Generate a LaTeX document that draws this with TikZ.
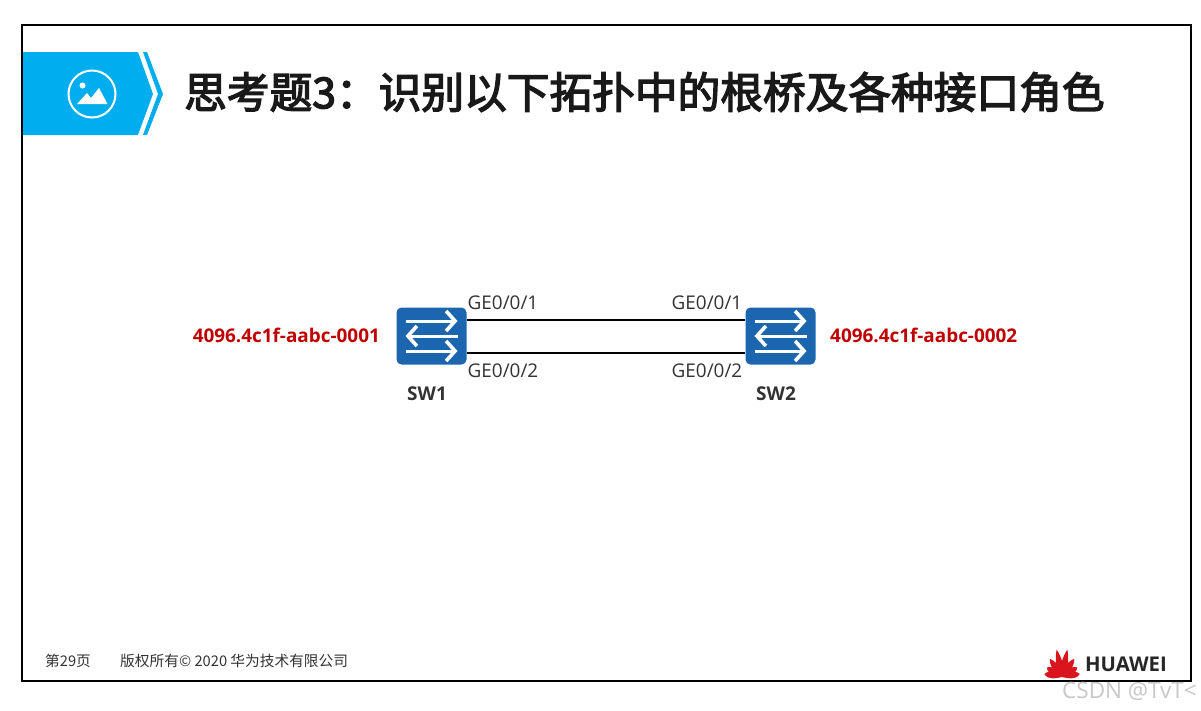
\documentclass[tikz,border=0pt]{standalone}
\usepackage{fontspec}
\setmainfont{Open Sans}
\newfontfamily\cjk{Noto Sans CJK SC}
\newfontfamily\cjktitle[FakeBold=3.2]{Noto Sans CJK SC}
\definecolor{hwblue}{HTML}{00AEEF}
\definecolor{swblue}{HTML}{1B66AE}
\definecolor{hwred}{HTML}{C00000}
\definecolor{logored}{HTML}{D9161E}
\definecolor{txtgray}{HTML}{333333}
\usetikzlibrary{arrows.meta}
\tikzset{
    switchbox/.style={draw=none, fill=swblue, rounded corners=5pt, minimum width=70pt, minimum height=57pt, inner sep=0pt},
    portlabel/.style={text=txtgray, font=\fontsize{18.9}{20}\selectfont, inner sep=0pt},
    namelabel/.style={text=txtgray, font=\fontsize{19}{20}\selectfont\bfseries, inner sep=0pt},
    bridgelabel/.style={text=hwred, font=\fontsize{18.9}{20}\selectfont\bfseries, inner sep=0pt},
    footlabel/.style={text=txtgray, font=\fontsize{14.7}{16}\selectfont, inner sep=0pt},
    swarrow/.style={white, line width=3pt, -{Straight Barb[length=9pt,width=20pt,line width=3.6pt]}},
    link/.style={black, line width=2pt}
}
\begin{document}
\begin{tikzpicture}[x=1pt, y=-1pt]
\useasboundingbox (0,0) rectangle (1201,710);

% Frame and title banner
\fill[white] (0,0) rectangle (1201,710);
\draw[black, line width=2.2pt] (22,25) rectangle (1191,681);
\fill[hwblue] (23,52) -- (138,52) -- (153,94) -- (138,135) -- (23,135) -- cycle;
\fill[hwblue] (143,52) -- (147,52) -- (163,94) -- (147,135) -- (143,135) -- (158,94) -- cycle;
\draw[white, line width=2pt] (92,94) circle (23.5);
\fill[white] (82.5,85.5) circle (3);
\fill[white] (77,104) -- (87,93) -- (91,98) -- (99,88) -- (107.5,104) -- cycle;

% Define the nodes
\node[anchor=west, inner sep=0pt, text=black!90] (title) at (184,92) {\fontsize{42.7}{46}\selectfont\cjktitle 思考题3：识别以下拓扑中的根桥及各种接口角色};
\node[switchbox] (SW1) at (431.5,336) {};
\node[switchbox] (SW2) at (780.5,336) {};
\node[namelabel] (name1) at (427,394) {SW1};
\node[namelabel] (name2) at (776,394) {SW2};
\node[bridgelabel, anchor=east] (id1) at (380,335) {4096.4c1f-aabc-0001};
\node[bridgelabel, anchor=west] (id2) at (830,335) {4096.4c1f-aabc-0002};
\node[portlabel] (p11) at (503,303) {GE0/0/1};
\node[portlabel] (p12) at (503,371) {GE0/0/2};
\node[portlabel] (p21) at (707,303) {GE0/0/1};
\node[portlabel] (p22) at (707,371) {GE0/0/2};
\node[footlabel, anchor=west] (page) at (45,660.5) {\cjk 第29页};
\node[footlabel, anchor=west] (copy) at (120,660.5) {\cjk 版权所有© 2020 华为技术有限公司};
\node[anchor=west, inner sep=0pt, text=black!85, font=\fontsize{20.3}{22}\selectfont\bfseries] (logo) at (1085,664) {HUAWEI};
\node[anchor=west, inner sep=0pt, text=black!22, font=\fontsize{22.5}{24}\selectfont] (mark) at (1062,691) {CSDN @TvT<};

% Define the links
\draw[link] (SW1.east |- 0,319.5) -- (SW2.west |- 0,319.5);
\draw[link] (SW1.east |- 0,353) -- (SW2.west |- 0,353);

% Arrows on the switches
\foreach \sw in {SW1, SW2} {
    \draw[swarrow] ([xshift=-26pt,yshift=-15pt]\sw.center) -- ([xshift=26pt,yshift=-15pt]\sw.center);
    \draw[swarrow] ([xshift=26pt]\sw.center) -- ([xshift=-26pt]\sw.center);
    \draw[swarrow] ([xshift=-26pt,yshift=15pt]\sw.center) -- ([xshift=26pt,yshift=15pt]\sw.center);
}

% Logo petals
\foreach \ang/\len in {-80/18, -58/18, -34/22, -11/28, 11/28, 34/22, 58/18, 80/18} {
    \fill[logored, rotate around={\ang:(1062,677)}] (1062,677) .. controls (1060,672) and (1056,664) .. (1062,677-\len) .. controls (1068,664) and (1064,672) .. (1062,677) -- cycle;
}
\end{tikzpicture}
\end{document}
